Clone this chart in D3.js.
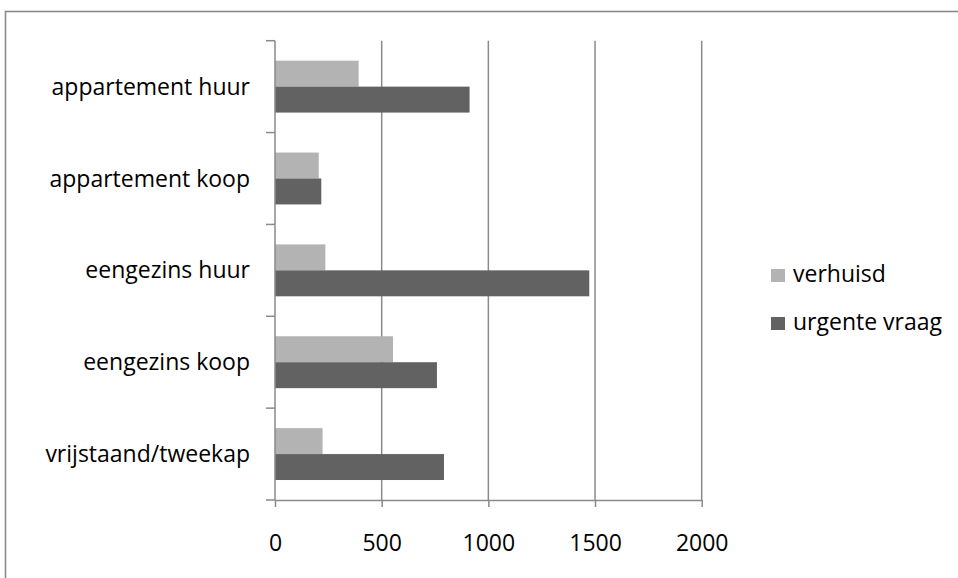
<!DOCTYPE html>
<html>
<head>
<meta charset="utf-8">
<script src="https://cdn.jsdelivr.net/npm/d3@7"></script>
<style>
  body { margin: 0; background: #fff; }
  svg { display: block; }
</style>
</head>
<body>
<script>
// categories top to bottom
var categories = ["appartement huur", "appartement koop", "eengezins huur", "eengezins koop", "vrijstaand/tweekap"];
var seriesNames = ["verhuisd", "urgente vraag"];
var verhuisd = [392, 205, 236, 553, 223];
var urgenteVraag = [912, 217, 1473, 759, 792];
var xTicks = [0, 500, 1000, 1500, 2000];

var colors = ["#b3b3b3", "#626262"];

var width = 958;
var height = 578;

var svg = d3.select("body")
          .append("svg")
          .attr("width", width)
          .attr("height", height);

// outer frame
svg.append("rect")
  .attr("x", 5.5)
  .attr("y", 11.5)
  .attr("width", 1100)
  .attr("height", 700)
  .attr("fill", "none")
  .attr("stroke", "#8a8a8a")
  .attr("stroke-width", 1.6);

var data = categories.map(function(c, i) {
  return {cat: c, values: [verhuisd[i], urgenteVraag[i]]};
});

var x = d3.scaleLinear()
          .domain([0, 2000])
          .range([275, 701.7]);

var y = d3.scaleBand()
          .domain(categories)
          .range([40.7, 500])
          .padding(0);

var ySub = d3.scaleBand()
          .domain([0, 1])
          .range([0, y.bandwidth()])
          .paddingInner(0)
          .paddingOuter(0.77);

var axisColor = "#8a8a8a";
var fontFam = "'Open Sans', sans-serif";
var fontSize = "23px";

// vertical gridlines
svg.append("g")
  .selectAll("line")
  .data(xTicks.slice(1))
  .enter()
    .append("line")
    .attr("x1", function(d) { return x(d); })
    .attr("x2", function(d) { return x(d); })
    .attr("y1", 40.7)
    .attr("y2", 500)
    .attr("stroke", axisColor)
    .attr("stroke-width", 1.5);

// bars
var groups = svg.append("g")
  .selectAll("g")
  .data(data)
  .enter()
    .append("g")
    .attr("transform", function(d) { return "translate(0," + y(d.cat) + ")"; });

groups.selectAll("rect")
  .data(function(d) { return d.values; })
  .enter()
    .append("rect")
    .attr("x", x(0))
    .attr("y", function(d, i) { return ySub(i); })
    .attr("height", ySub.bandwidth())
    .attr("width", function(d) { return x(d) - x(0); })
    .attr("fill", function(d, i) { return colors[i]; });

// x axis
var xAxis = d3.axisBottom(x)
              .tickValues(xTicks)
              .tickFormat(d3.format("d"))
              .tickSize(7)
              .tickSizeOuter(0);

var gx = svg.append("g")
  .attr("transform", "translate(0,500)")
  .call(xAxis);

gx.select(".domain").attr("stroke", axisColor).attr("stroke-width", 1.5);
gx.selectAll(".tick line").attr("stroke", axisColor).attr("stroke-width", 1.5);
gx.selectAll(".tick text")
  .attr("y", 35)
  .attr("dy", "0.71em")
  .attr("fill", "#000")
  .attr("font-family", fontFam)
  .style("font-size", fontSize);

// y axis line with ticks at band edges
svg.append("line")
  .attr("x1", x(0))
  .attr("x2", x(0))
  .attr("y1", 40.7)
  .attr("y2", 500)
  .attr("stroke", axisColor)
  .attr("stroke-width", 1.5);

var edges = categories.map(function(c) { return y(c); }).concat([y.range()[1]]);

svg.append("g")
  .selectAll("line")
  .data(edges)
  .enter()
    .append("line")
    .attr("x1", x(0) - 9)
    .attr("x2", x(0))
    .attr("y1", function(d) { return d; })
    .attr("y2", function(d) { return d; })
    .attr("stroke", axisColor)
    .attr("stroke-width", 1.5);

// category labels
svg.append("g")
  .selectAll("text")
  .data(categories)
  .enter()
    .append("text")
    .attr("x", 250)
    .attr("y", function(d) { return y(d) + y.bandwidth() / 2; })
    .attr("dy", "0.35em")
    .attr("text-anchor", "end")
    .attr("font-family", fontFam)
    .style("font-size", fontSize)
    .attr("fill", "#000")
    .text(function(d) { return d; });

// legend
var legend = svg.append("g")
  .selectAll("g")
  .data(seriesNames)
  .enter()
    .append("g")
    .attr("transform", function(d, i) { return "translate(771," + (269 + i * 48) + ")"; });

legend.append("rect")
  .attr("width", 14)
  .attr("height", 13)
  .attr("fill", function(d, i) { return colors[i]; });

legend.append("text")
  .attr("x", 22)
  .attr("y", 13)
  .attr("font-family", fontFam)
  .style("font-size", fontSize)
  .attr("fill", "#000")
  .text(function(d) { return d; });
</script>
</body>
</html>
